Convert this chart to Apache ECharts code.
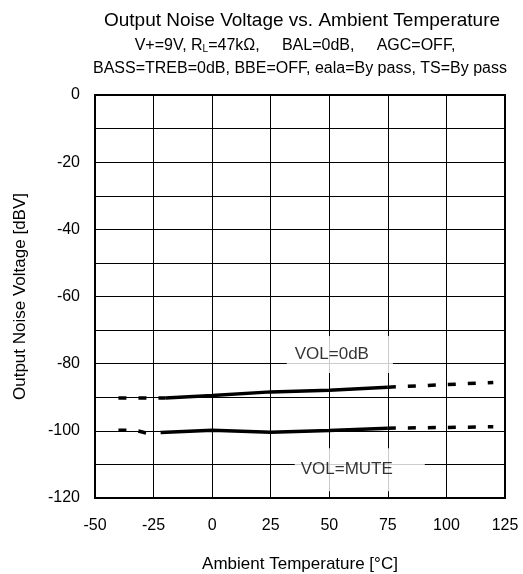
<!DOCTYPE html>
<html>
<head>
<meta charset="utf-8">
<script src="https://cdn.jsdelivr.net/npm/echarts@6/dist/echarts.min.js"></script>
<style>
html, body { margin: 0; padding: 0; background: #fff; }
#chart { width: 523px; height: 574px; }
</style>
</head>
<body>
<div id="chart"></div>
<script>
// temperatures [°C] and noise [dBV]
var zeroDashLeftT = [-40, -20];
var zeroDashLeftV = [-90.2, -90.2];
var zeroSolidT = [-20, 0, 25, 50, 75];
var zeroSolidV = [-90.2, -89.5, -88.4, -87.9, -87];
var zeroDashRightT = [75, 120];
var zeroDashRightV = [-87, -85.6];

var muteDashLeftT = [-40, -33, -28];
var muteDashLeftV = [-99.8, -99.8, -100.7];
var muteSolidT = [-22, 0, 25, 50, 75];
var muteSolidV = [-100.5, -99.8, -100.4, -99.9, -99.2];
var muteDashRightT = [75, 120];
var muteDashRightV = [-99.2, -98.8];

// curve names, placed in white boxes over the grid
var labelT = [54.5, 63];
var labelV = [-77.3, -111.6];
var labelText = ['VOL=0dB', 'VOL=MUTE'];

var font = 'Liberation Sans, Arial, sans-serif';

function pairs(t, v) {
    return t.map(function(x, i) { return [x, v[i]]; });
}

function lineSeries(t, v, dashed) {
    return {
        type: 'line',
        data: pairs(t, v),
        showSymbol: false,
        silent: true,
        lineStyle: {
            color: '#000',
            width: 3.5,
            type: dashed ? [8, 12] : 'solid',
            cap: 'butt'
        }
    };
}

function createViz() {
    var myChart = echarts.init(document.getElementById('chart'));

    var boxPadding = [[10, 24, 10, 8], [13, 32, 13, 6]];

    var option = {
        animation: false,
        title: [
            {
                text: 'Output Noise Voltage vs. Ambient Temperature',
                left: 297,
                top: 6,
                textAlign: 'center',
                textStyle: { fontFamily: font, fontSize: 19, fontWeight: 'normal', color: '#000' }
            },
            {
                text: 'V+=9V, R{sub|L}=47kΩ,     BAL=0dB,     AGC=OFF,',
                left: 290,
                top: 32,
                textAlign: 'center',
                textStyle: {
                    fontFamily: font, fontSize: 16, fontWeight: 'normal', color: '#000',
                    rich: {
                        sub: { fontFamily: font, fontSize: 10, color: '#000', padding: [7, 0, 0, 0] }
                    }
                }
            },
            {
                text: 'BASS=TREB=0dB, BBE=OFF, eala=By pass, TS=By pass',
                left: 295,
                top: 56,
                textAlign: 'center',
                textStyle: { fontFamily: font, fontSize: 16, fontWeight: 'normal', color: '#000' }
            }
        ],
        grid: {
            left: 95,
            right: 18,
            top: 95,
            bottom: 76,
            outerBoundsMode: 'none',
            show: true,
            borderColor: '#000',
            borderWidth: 2,
            backgroundColor: 'transparent'
        },
        xAxis: {
            type: 'value',
            min: -50,
            max: 125,
            interval: 25,
            name: 'Ambient Temperature [°C]',
            nameLocation: 'middle',
            nameGap: 58,
            nameTextStyle: { fontFamily: font, fontSize: 17, color: '#000' },
            axisLine: { show: false },
            axisTick: { show: false },
            axisLabel: { fontFamily: font, fontSize: 16, color: '#000', margin: 20 },
            splitLine: { show: true, lineStyle: { color: '#000', width: 1 } }
        },
        yAxis: {
            type: 'value',
            min: -120,
            max: 0,
            interval: 10,
            name: 'Output Noise Voltage [dBV]',
            nameLocation: 'middle',
            nameGap: 66,
            nameTextStyle: { fontFamily: font, fontSize: 17, color: '#000' },
            axisLine: { show: false },
            axisTick: { show: false },
            axisLabel: {
                fontFamily: font, fontSize: 16, color: '#000', margin: 15,
                formatter: function(v) { return v % 20 === 0 ? String(v) : ''; }
            },
            splitLine: { show: true, lineStyle: { color: '#000', width: 1 } }
        },
        series: [
            lineSeries(zeroDashLeftT, zeroDashLeftV, true),
            lineSeries(zeroSolidT, zeroSolidV, false),
            lineSeries(zeroDashRightT, zeroDashRightV, true),
            lineSeries(muteDashLeftT, muteDashLeftV, true),
            lineSeries(muteSolidT, muteSolidV, false),
            lineSeries(muteDashRightT, muteDashRightV, true),
            {
                type: 'scatter',
                symbolSize: 0,
                silent: true,
                z: 5,
                data: pairs(labelT, labelV).map(function(p, i) {
                    return { value: p, name: labelText[i], label: { padding: boxPadding[i] } };
                }),
                label: {
                    show: true,
                    position: 'inside',
                    formatter: '{b}',
                    fontFamily: font,
                    fontSize: 17,
                    color: '#000',
                    backgroundColor: '#fff'
                }
            }
        ]
    };

    myChart.setOption(option);
}

createViz();
</script>
</body>
</html>
